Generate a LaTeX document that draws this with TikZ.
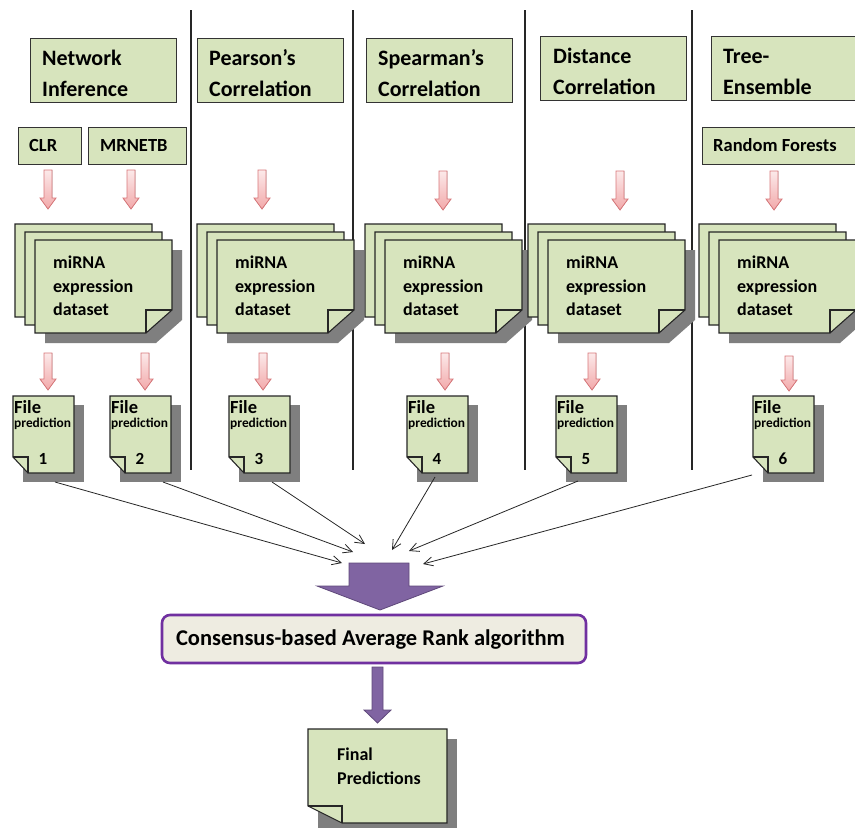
\documentclass[tikz,border=0pt]{standalone}
\usepackage{fontspec}
\setmainfont{Carlito}
\usetikzlibrary{arrows.meta}
\definecolor{boxgreen}{HTML}{D7E4BD}
\definecolor{pinkfill}{HTML}{F2A9AA}
\definecolor{pinkline}{HTML}{D9777A}
\definecolor{purplefill}{HTML}{8064A2}
\definecolor{purpleline}{HTML}{5F497A}
\definecolor{purpleborder}{HTML}{7030A0}
\definecolor{beige}{HTML}{EEECE1}
\definecolor{shadowgray}{HTML}{7F7F7F}
\tikzset{
  page/.style={fill=boxgreen, draw=black!85, line width=1.1pt, line join=miter},
  pageline/.style={draw=black!85, line width=1.1pt},
  hbox/.style={fill=boxgreen, draw=black!80, line width=1pt},
  pinkarrow/.style={top color=pinkfill!25, bottom color=pinkfill, draw=pinkline, line width=0.8pt},
  hdtext/.style={anchor=west, align=left, inner sep=0pt, font=\fontsize{22}{31}\selectfont\bfseries},
  smtext/.style={anchor=west, inner sep=0pt, font=\fontsize{18.5}{20}\selectfont\bfseries},
  dstext/.style={anchor=west, align=left, inner sep=0pt, font=\fontsize{18}{23.5}\selectfont\bfseries},
  conn/.style={draw=black!85, line width=0.8pt, -{Straight Barb[length=9pt,width=9pt]}},
  sep/.style={draw=black!85, line width=1.1pt},
  bigarrow/.style={fill=purplefill, draw=purpleline, line width=0.8pt},
}
\newcommand\pinkarr[3]{%
  \filldraw[pinkarrow] ({#1-4},#2) -- ({#1+4},#2) -- ({#1+4},{#3-11}) -- ({#1+8},{#3-11})
    -- (#1,#3) -- ({#1-8},{#3-11}) -- ({#1-4},{#3-11}) -- cycle;}
\newcommand\onepage[2]{%
  \filldraw[page] (#1,#2) -- ++(137,0) -- ++(0,70) -- ++(-26,23) -- ++(-111,0) -- cycle;
  \draw[pageline] ({#1+111},{#2+93}) -- ++(0,-23) -- ++(26,0);}
\newcommand\docstack[3]{%
  \fill[shadowgray] ({#1+30},{#2+26}) -- ++(137,0) -- ++(0,70) -- ++(-26,23) -- ++(-111,0) -- cycle;
  \onepage{#1}{#2}
  \onepage{#1+10}{#2+8}
  \onepage{#1+20}{#2+16}
  \node[dstext] (#3) at ({#1+38},{#2+62}) {miRNA\\expression\\dataset};}
\newcommand\filedoc[4]{%
  \fill[shadowgray] ({#1+10},{#2+9}) rectangle ++(61,77);
  \filldraw[page] (#1,#2) -- ++(61,0) -- ++(0,77) -- ++(-46,0) -- ++(-15,-16) -- cycle;
  \draw[pageline] (#1,{#2+61}) -- ++(15,0) -- ++(0,16);
  \node[smtext] (#4a) at ({#1+1},{#2+11}) {File};
  \node[anchor=west, inner sep=0pt, font=\fontsize{13.4}{14}\selectfont\bfseries] (#4b) at ({#1+1},{#2+28}) {prediction};
  \node[inner sep=0pt, font=\fontsize{17}{18}\selectfont\bfseries] (#4c) at ({#1+30},{#2+63}) {#3};}
\begin{document}
\begin{tikzpicture}[x=1pt,y=-1pt]
\useasboundingbox (0,0) rectangle (855,828);
\clip (0,0) rectangle (855,828);
\fill[white] (0,0) rectangle (855,828);

% separators
\foreach \sx in {191,353,525,692} \draw[sep] (\sx,10) -- (\sx,470);

% header boxes
\filldraw[hbox] (30,38) rectangle (176,102);
\node[hdtext] (h1) at (42,73.5) {Network\\Inference};
\filldraw[hbox] (197,38) rectangle (343,102);
\node[hdtext] (h2) at (209,73.5) {Pearson’s\\Correlation};
\filldraw[hbox] (366,38) rectangle (512,102);
\node[hdtext] (h3) at (378,73.5) {Spearman’s\\Correlation};
\filldraw[hbox] (540,36) rectangle (686,100);
\node[hdtext] (h4) at (553,71.5) {Distance\\Correlation};
\filldraw[hbox] (711,36) rectangle (862,100);
\node[hdtext] (h5) at (723,71.5) {Tree-\\Ensemble};

% method boxes
\filldraw[hbox] (18,127) rectangle (81,164);
\node[smtext] (clr) at (29,145.5) {CLR};
\filldraw[hbox] (88,127) rectangle (186,164);
\node[smtext] (mrnetb) at (100,145.5) {MRNETB};
\filldraw[hbox] (702,127) rectangle (862,164);
\node[smtext] (rf) at (713,145.5) {Random Forests};

% pink arrows row 1
\pinkarr{48}{170}{209}
\pinkarr{131}{170}{209}
\pinkarr{262}{170}{209}
\pinkarr{443}{171}{210}
\pinkarr{620}{171}{210}
\pinkarr{774}{171}{210}

% dataset stacks
\docstack{15}{224}{d1}
\docstack{197}{224}{d2}
\docstack{365}{224}{d3}
\docstack{528}{224}{d4}
\docstack{699}{224}{d5}

% pink arrows row 2
\pinkarr{48}{353}{390}
\pinkarr{145}{353}{390}
\pinkarr{263}{353}{390}
\pinkarr{445}{353}{390}
\pinkarr{592}{353}{390}
\pinkarr{789}{356}{391}

% file predictions
\filedoc{13}{396}{1}{f1}
\filedoc{110}{396}{2}{f2}
\filedoc{229}{396}{3}{f3}
\filedoc{407}{396}{4}{f4}
\filedoc{556}{396}{5}{f5}
\filedoc{753}{396}{6}{f6}

% connectors
\coordinate (s1) at (55,482);
\coordinate (s2) at (163,482);
\coordinate (s3) at (272,482);
\coordinate (s4) at (435,477);
\coordinate (s5) at (578,481);
\coordinate (s6) at (752,475);
\coordinate (e1) at (342,563);
\coordinate (e2) at (353,552);
\coordinate (e3) at (365,544);
\coordinate (e4) at (392,550);
\coordinate (e5) at (409,551);
\coordinate (e6) at (423,564);
\foreach \i in {1,...,6} \draw[conn] (s\i) -- (e\i);

% big purple arrow
\filldraw[bigarrow] (349,563) -- (409,563) -- (409,586) -- (443,586) -- (380,610)
  -- (317,586) -- (349,586) -- cycle;

% consensus box
\node[draw=purpleborder, line width=2.6pt, fill=beige, rounded corners=8pt,
  minimum width=424pt, minimum height=48pt, inner sep=0pt] (cons) at (374,639) {};
\node[inner sep=0pt, font=\fontsize{22.5}{24}\selectfont\bfseries] (constext) at (370.5,640) {Consensus-based Average Rank algorithm};

% second purple arrow
\filldraw[bigarrow] (372,667) -- (383,667) -- (383,710) -- (391,710) -- (377.5,723)
  -- (364,710) -- (372,710) -- cycle;

% final predictions
\fill[shadowgray] (318,739) rectangle ++(139,94);
\filldraw[page] (308,729) -- ++(139,0) -- ++(0,94) -- ++(-105,0) -- ++(-34,-17) -- cycle;
\draw[pageline] (308,806) -- ++(34,0) -- ++(0,17);
\node[anchor=west, align=left, inner sep=0pt, font=\fontsize{18}{24}\selectfont\bfseries] (final) at (337,766) {Final\\Predictions};
\end{tikzpicture}
\end{document}
